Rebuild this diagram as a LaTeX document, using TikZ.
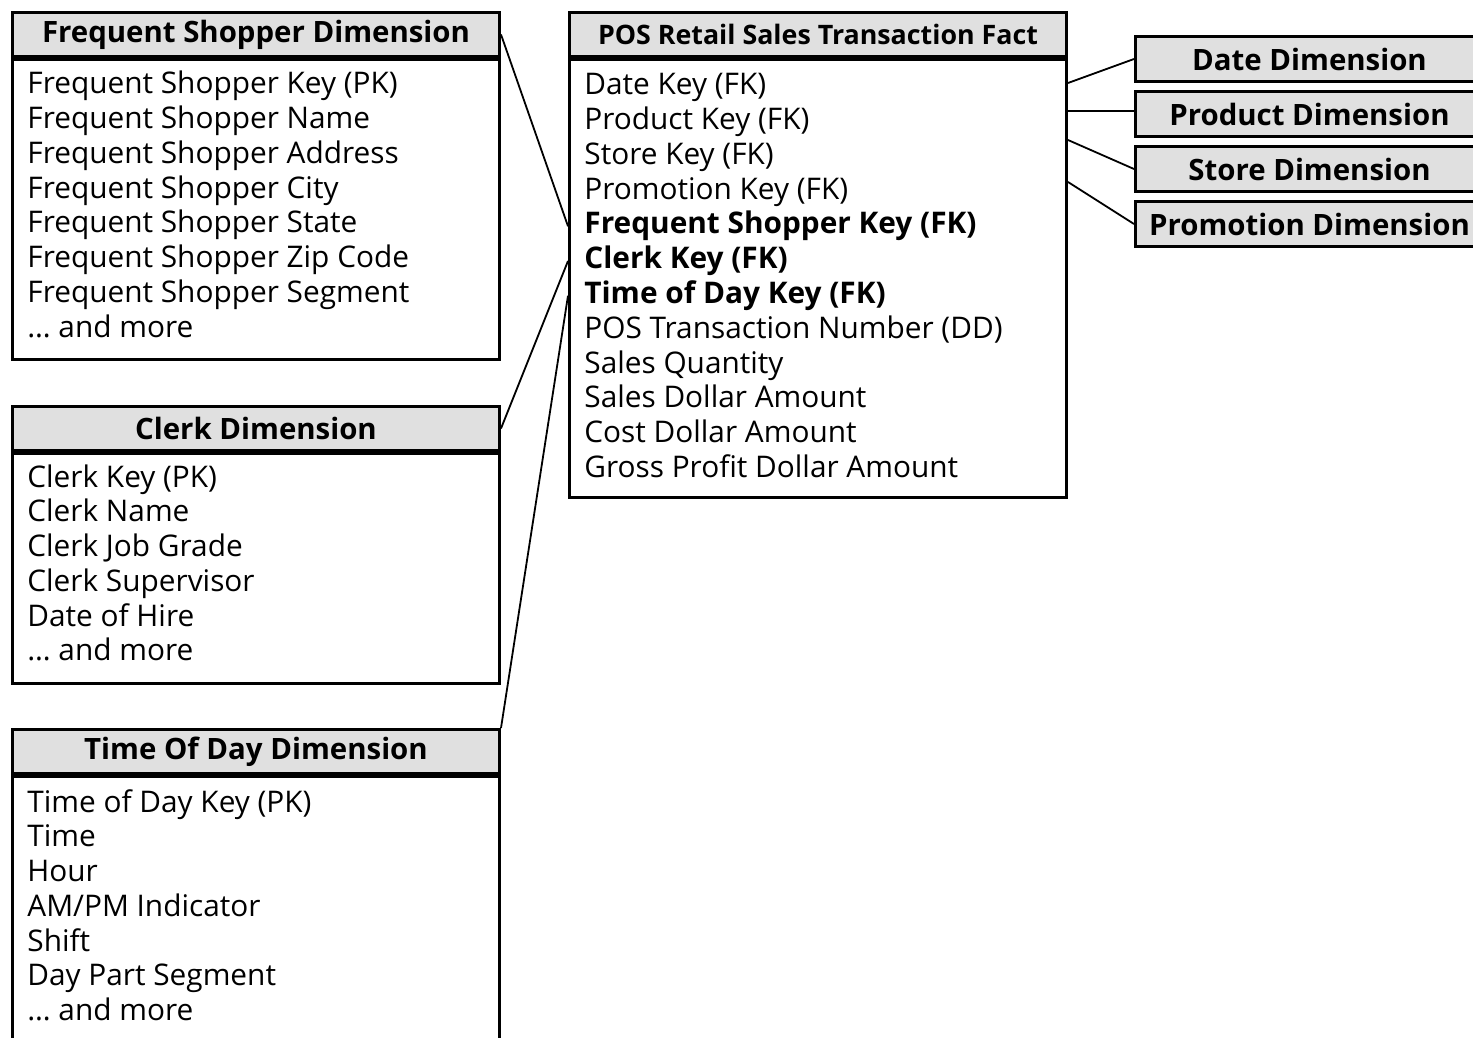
\documentclass[tikz,border=0pt]{standalone}
\usepackage{fontspec}
\setmainfont{Open Sans}
\usetikzlibrary{positioning}
\definecolor{hdr-gray}{RGB}{224,224,224}
\newcommand{\rowfont}{\fontsize{14.9}{17.4}\selectfont}
\newcommand{\hdrfont}{\bfseries\fontsize{14.7}{17.4}\selectfont}

\begin{document}
\begin{tikzpicture}[x=0.5pt, y=-0.5pt]
    \tikzset{ hdr/.style    ={draw, line width=1.5pt, fill=hdr-gray, inner sep=0pt, font=\hdrfont} }
    \tikzset{ tblhdr/.style ={hdr, anchor=north west, minimum width=243.5pt, minimum height=22pt} }
    \tikzset{ facthdr/.style={hdr, anchor=north west, minimum width=248.5pt, minimum height=22pt} }
    \tikzset{ dimhdr/.style ={hdr, anchor=north west, minimum width=174pt, minimum height=22.5pt} }
    \tikzset{ tblbody/.style={draw, line width=1.5pt, inner sep=0pt, minimum width=243.5pt} }
    \tikzset{ row/.style    ={anchor=base west, inner sep=0pt, font=\rowfont} }
    \tikzset{ lnk/.style    ={line width=0.9pt} }

    \useasboundingbox (0,0) rectangle (1473,1038);

    % left hand dimensions
    \node[tblhdr] (fsHead) at (11,11) {Frequent Shopper Dimension};
    \node[tblbody, below=0pt of fsHead, minimum height=150pt] (fsBody) {};
    \foreach \txt [count=\i from 0] in {Frequent Shopper Key (PK), Frequent Shopper Name, Frequent Shopper Address, Frequent Shopper City, Frequent Shopper State, Frequent Shopper Zip Code, Frequent Shopper Segment, … and more}
        \node[row] (fs\i) at (27, 94+34.75*\i) {\txt};

    \node[tblhdr] (clerkHead) at (11,405) {Clerk Dimension};
    \node[tblbody, below=0pt of clerkHead, minimum height=115pt] (clerkBody) {};
    \foreach \txt [count=\i from 0] in {Clerk Key (PK), Clerk Name, Clerk Job Grade, Clerk Supervisor, Date of Hire, … and more}
        \node[row] (clerk\i) at (27, 487+34.75*\i) {\txt};

    \node[tblhdr] (timeHead) at (11,728) {Time Of Day Dimension};
    \node[tblbody, below=0pt of timeHead, minimum height=150pt] (timeBody) {};
    \foreach \txt [count=\i from 0] in {Time of Day Key (PK), Time, Hour, AM/PM Indicator, Shift, Day Part Segment, … and more}
        \node[row] (time\i) at (27, 812+34.75*\i) {\txt};

    % fact table
    \node[facthdr, font=\bfseries\fontsize{13.4}{16}\selectfont] (factHead) at (568,11) {POS Retail Sales Transaction Fact};
    \node[tblbody, below=0pt of factHead, minimum width=248.5pt, minimum height=219pt] (factBody) {};
    \foreach \nm/\txt [count=\i from 0] in {fDate/Date Key (FK), fProduct/Product Key (FK), fStore/Store Key (FK), fPromo/Promotion Key (FK), fShopper/\textbf{Frequent Shopper Key (FK)}, fClerk/\textbf{Clerk Key (FK)}, fTime/\textbf{Time of Day Key (FK)}, fPosNum/POS Transaction Number (DD), fQty/Sales Quantity, fSales/Sales Dollar Amount, fCost/Cost Dollar Amount, fProfit/Gross Profit Dollar Amount}
        \node[row] (\nm) at (584, 95+34.75*\i) {\txt};

    % right hand dimensions
    \node[dimhdr                        ] (dateDim)  at (1134,35) {Date Dimension};
    \node[dimhdr, below=3.5pt of dateDim] (prodDim)               {Product Dimension};
    \node[dimhdr, below=3.5pt of prodDim] (storeDim)              {Store Dimension};
    \node[dimhdr, below=3.5pt of storeDim] (promoDim)             {Promotion Dimension};

    % joins
    \path (factBody.north east) ++(0,25) coordinate (jDate) ++(0,28) coordinate (jProduct)
                                ++(0,29) coordinate (jStore) ++(0,42) coordinate (jPromo);

    \draw[lnk] (fsHead.east)         -- (factBody.west |- fShopper);
    \draw[lnk] (clerkHead.east)      -- (factBody.west |- fClerk);
    \draw[lnk] (timeHead.north east) -- (factBody.west |- fTime);
    \draw[lnk] (jDate)    -- (dateDim.west);
    \draw[lnk] (jProduct) -- (prodDim.west |- jProduct);
    \draw[lnk] (jStore)   -- (storeDim.west);
    \draw[lnk] (jPromo)   -- (promoDim.west);
\end{tikzpicture}
\end{document}
